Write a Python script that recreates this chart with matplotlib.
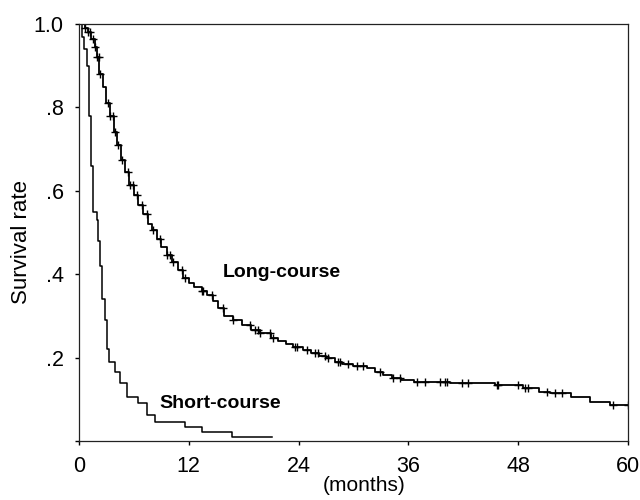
import numpy as np
import matplotlib
matplotlib.use("Agg")
import matplotlib.pyplot as plt

plt.rcParams['font.family'] = ['Liberation Sans', 'DejaVu Sans']

# Kaplan-Meier step points (months, survival)
long_t = [0, 0.7, 1.0, 1.3, 1.7, 2.0, 2.2, 2.6, 3.0, 3.4, 3.8, 4.2, 4.6, 5.0, 5.5,
          6.0, 6.5, 7.0, 7.5, 8.0, 8.5, 9.0, 9.6, 10.2, 10.8, 11.4, 12.0, 12.6,
          13.4, 14.0, 14.6, 15.2, 15.8, 16.8, 17.8, 18.8, 19.8, 21.0, 21.8, 22.6,
          23.4, 24.5, 25.4, 26.2, 27.0, 28.0, 28.8, 30.0, 31.5, 32.3, 33.2, 34.2,
          35.2, 36.6, 40.5, 45.5, 48.5, 50.3, 51.5, 53.8, 55.8, 58.0]
long_s = [1.0, 0.99, 0.98, 0.965, 0.945, 0.92, 0.88, 0.85, 0.81, 0.78, 0.74, 0.71,
          0.675, 0.645, 0.615, 0.59, 0.565, 0.545, 0.52, 0.505, 0.485, 0.465,
          0.445, 0.43, 0.41, 0.39, 0.38, 0.37, 0.36, 0.35, 0.335, 0.32, 0.30,
          0.29, 0.278, 0.266, 0.258, 0.247, 0.24, 0.232, 0.225, 0.218, 0.212,
          0.205, 0.198, 0.19, 0.185, 0.18, 0.175, 0.165, 0.158, 0.15, 0.146,
          0.142, 0.139, 0.134, 0.127, 0.118, 0.115, 0.106, 0.094, 0.086]
long_end = 60.0
long_censor = [0.7, 1.0, 1.2, 1.5, 1.75, 2.0, 2.15, 2.3, 3.2, 3.4, 3.7, 3.9, 4.3,
               4.7, 5.4, 5.6, 5.9, 6.3, 6.9, 7.4, 8.1, 8.9, 9.6, 9.9, 10.3, 11.3,
               11.6, 13.4, 13.6, 14.5, 15.7, 16.8, 18.7, 19.2, 19.6, 19.8, 20.9,
               21.2, 23.6, 23.8, 24.9, 25.8, 26.1, 26.9, 27.2, 28.3, 28.5, 29.4,
               30.4, 31.0, 32.9, 34.3, 35.1, 36.9, 37.8, 39.5, 40.0, 40.2, 41.9,
               42.5, 45.7, 45.8, 48.0, 48.7, 49.1, 51.1, 52.0, 52.8, 58.4, 60.0]

short_t = [0, 0.3, 0.6, 0.9, 1.1, 1.3, 1.5, 2.0, 2.1, 2.3, 2.5, 2.8, 3.1, 3.3,
           3.9, 4.5, 5.2, 6.4, 7.4, 8.3, 11.6, 13.4, 16.7]
short_s = [1.0, 0.97, 0.94, 0.90, 0.78, 0.66, 0.55, 0.53, 0.48, 0.42, 0.34, 0.29,
           0.22, 0.19, 0.165, 0.14, 0.105, 0.09, 0.062, 0.045, 0.034, 0.022, 0.01]
short_end = 21.1

x_ticks = [0, 12, 24, 36, 48, 60]
y_ticks = [0, 0.2, 0.4, 0.6, 0.8, 1.0]
y_labels = ['', '.2', '.4', '.6', '.8', '1.0']


def surv_at(t, times, surv):
    idx = np.searchsorted(times, t, side='right') - 1
    return np.asarray(surv)[idx]


fig = plt.figure(figsize=(6.4, 5.0), dpi=100)
ax = fig.add_axes([0.1234, 0.118, 0.8578, 0.834])

ax.step(long_t + [long_end], long_s + [long_s[-1]], where='post',
        color='black', lw=1.3)
ax.plot(long_censor, surv_at(long_censor, long_t, long_s), '+',
        color='black', ms=6, mew=1.0)
ax.step(short_t + [short_end], short_s + [short_s[-1]], where='post',
        color='black', lw=1.1)

ax.text(15.7, 0.405, 'Long-course', fontsize=14, fontweight='bold',
        va='center', ha='left')
ax.text(8.8, 0.09, 'Short-course', fontsize=14, fontweight='bold',
        va='center', ha='left')

ax.set_xlim(0, 60)
ax.set_ylim(0, 1.0)
ax.set_xticks(x_ticks)
ax.set_yticks(y_ticks)
ax.set_yticklabels(y_labels)
ax.tick_params(direction='out', length=3, width=1, labelsize=15.5, pad=8)
ax.tick_params(axis='x', pad=8)
for sp in ax.spines.values():
    sp.set_linewidth(0.9)
    sp.set_color('#222222')

ax.set_ylabel('Survival rate', fontsize=16)
ax.yaxis.set_label_coords(-0.085, 0.477)
ax.set_xlabel('(months)', fontsize=15)
ax.xaxis.set_label_coords(0.52, -0.084)

fig.savefig('out.png', dpi=100)
